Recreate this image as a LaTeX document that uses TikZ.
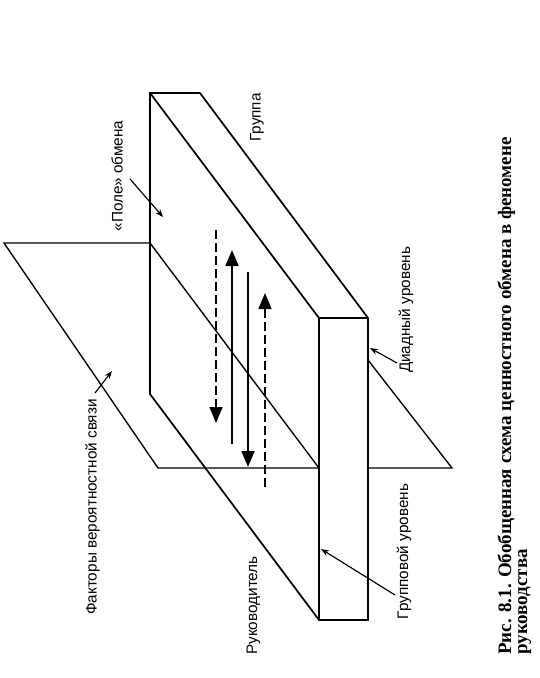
\documentclass[tikz,border=0pt]{standalone}
\usepackage{fontspec}
\setmainfont{Liberation Serif}
\setsansfont{Liberation Sans}
\usetikzlibrary{arrows.meta}
\begin{document}
\begin{tikzpicture}[x=1pt,y=-1pt,
  edge/.style={line width=1.7pt, line join=miter},
  pedge/.style={line width=1.35pt},
  bigarrow/.style={line width=1.8pt, -{Triangle[length=16pt,width=13pt]}},
  dasharrow/.style={bigarrow, line width=1.5pt, dash pattern=on 9pt off 4pt},
  pointer/.style={line width=1.15pt, -{Stealth[length=8pt,width=6pt]}},
  lbl/.style={font=\sffamily\fontsize{15.3}{17}\selectfont, rotate=90, inner sep=0pt},
  capt/.style={font=\rmfamily\bfseries\fontsize{19}{21}\selectfont, rotate=90, inner sep=0pt, anchor=base west}]
\useasboundingbox (0,0) rectangle (539,678);
% slab
\coordinate (P1) at (150,93);
\coordinate (P2) at (200,93);
\coordinate (P3) at (319,318);
\coordinate (P4) at (368,318);
\coordinate (P1b) at (150,394);
\coordinate (P3b) at (319,620);
\coordinate (P4b) at (368,620);
% plane
\coordinate (Q1) at (4,243);
\coordinate (Q2) at (150,243);
\coordinate (Q3) at (158,468);
\coordinate (Q4) at (319,468);
\coordinate (Q5) at (368,468);
\coordinate (Q6) at (452,468);
\coordinate (Q7) at (368,360);
\draw[pedge] (Q2) -- (Q1) -- (Q3) -- (Q4);
\draw[pedge] (Q5) -- (Q6) -- (Q7);
\draw[pedge] (Q2) -- (Q4);
\draw[edge] (P1b) -- (P1) -- (P2) -- (P4) -- (P4b) -- (P3b) -- cycle;
\draw[edge] (P1) -- (P3) -- (P4);
\draw[edge] (P3) -- (P3b);
% exchange arrows
\coordinate (A1s) at (216,230); \coordinate (A1e) at (216,423);
\coordinate (A2s) at (232,444); \coordinate (A2e) at (232,250);
\coordinate (A3s) at (248,272); \coordinate (A3e) at (248,467);
\coordinate (A4s) at (265,487); \coordinate (A4e) at (265,293);
\draw[dasharrow] (A1s) -- (A1e);
\draw[bigarrow] (A2s) -- (A2e);
\draw[bigarrow] (A3s) -- (A3e);
\draw[dasharrow] (A4s) -- (A4e);
% labels
\node[lbl] (pole) at (117,176) {«Поле» обмена};
\node[lbl] (grp) at (257,117.5) {Группа};
\node[lbl] (diad) at (406,310) {Диадный уровень};
\node[lbl] (fact) at (92.5,507) {Факторы вероятностной связи};
\node[lbl] (ruk) at (253.5,605.5) {Руководитель};
\node[lbl] (glev) at (404,551.5) {Групповой уровень};
% pointers
\coordinate (t1) at (130,179); \coordinate (h1) at (163,217);
\coordinate (t2) at (95,393);  \coordinate (h2) at (112,371);
\coordinate (t3) at (397,363); \coordinate (h3) at (370,348);
\coordinate (t4) at (395,595); \coordinate (h4) at (321,549);
\draw[pointer] (t1) -- (h1);
\draw[pointer] (t2) -- (h2);
\draw[pointer] (t3) -- (h3);
\draw[pointer] (t4) -- (h4);
% caption
\node[capt] (cap1) at (511,655) {Рис. 8.1. Обобщенная схема ценностного обмена в феномене};
\node[capt] (cap2) at (527,655) {руководства};
\end{tikzpicture}
\end{document}
